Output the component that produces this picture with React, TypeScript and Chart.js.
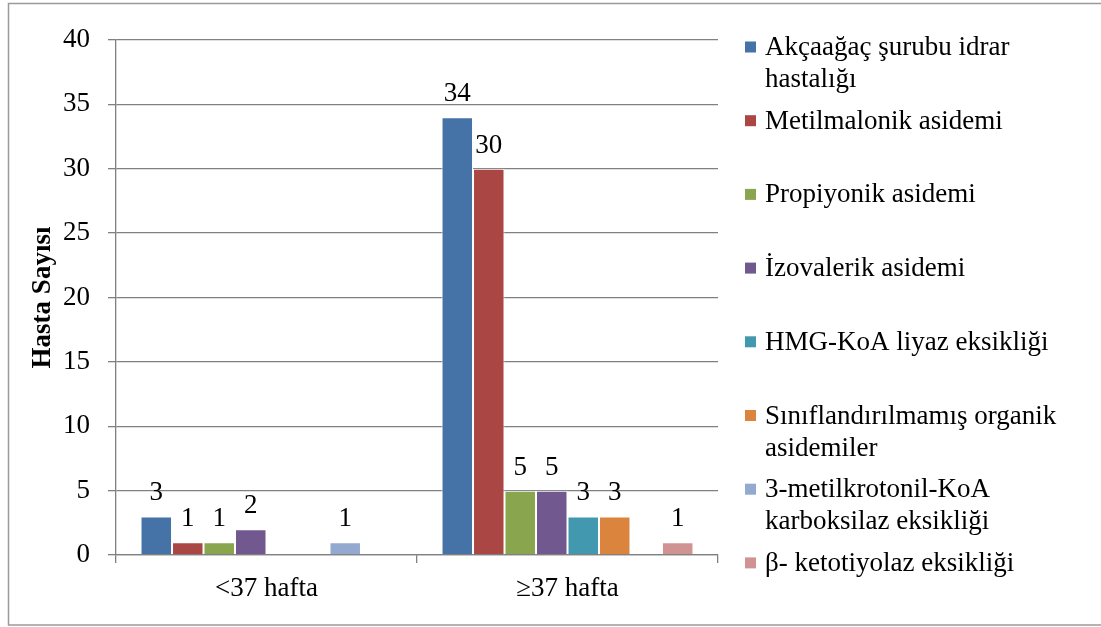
import React, { useEffect, useRef } from "react";
import { Chart, registerables } from "chart.js";

Chart.register(...registerables);

const categories = ["<37 hafta", "≥37 hafta"];
const seriesNames = [
  "Akçaağaç şurubu idrar hastalığı",
  "Metilmalonik asidemi",
  "Propiyonik asidemi",
  "İzovalerik asidemi",
  "HMG-KoA liyaz eksikliği",
  "Sınıflandırılmamış organik asidemiler",
  "3-metilkrotonil-KoA karboksilaz eksikliği",
  "β- ketotiyolaz eksikliği",
];
const legendLines = [
  ["Akçaağaç şurubu idrar", "hastalığı"],
  ["Metilmalonik asidemi"],
  ["Propiyonik asidemi"],
  ["İzovalerik asidemi"],
  ["HMG-KoA liyaz eksikliği"],
  ["Sınıflandırılmamış organik", "asidemiler"],
  ["3-metilkrotonil-KoA", "karboksilaz eksikliği"],
  ["β- ketotiyolaz eksikliği"],
];
const seriesValues = [
  [3, 34],
  [1, 30],
  [1, 5],
  [2, 5],
  [0, 3],
  [0, 3],
  [1, 0],
  [0, 1],
];
const seriesColors = [
  "#4572A7",
  "#AA4643",
  "#89A54E",
  "#71588F",
  "#4198AF",
  "#DB843D",
  "#93A9CF",
  "#D19392",
];
const yTitle = "Hasta Sayısı";
const yMin = 0;
const yMax = 40;
const yStep = 5;

const FONT = "'Liberation Serif', serif";
const GRID = "#808080";

export default function App() {
  const ref = useRef<HTMLCanvasElement | null>(null);
  useEffect(() => {
    document.body.style.margin = "0";
    const canvas = ref.current!;
    const framePlugin = {
      id: "frame",
      beforeDraw(chart: any) {
        const c = chart.ctx;
        c.save();
        c.fillStyle = "#ffffff";
        c.fillRect(0, 0, chart.width, chart.height);
        c.strokeStyle = "#9a9a9a";
        c.lineWidth = 1.5;
        c.strokeRect(8.5, 3.5, 1100, 621.5);
        c.restore();
      },
    };
    const labelsPlugin = {
      id: "vals",
      afterDatasetsDraw(chart: any) {
        const c = chart.ctx;
        c.save();
        c.font = `27px ${FONT}`;
        c.fillStyle = "#000";
        c.textAlign = "center";
        c.textBaseline = "alphabetic";
        chart.data.datasets.forEach((ds: any, i: number) => {
          const meta = chart.getDatasetMeta(i);
          meta.data.forEach((el: any, j: number) => {
            const v = ds.data[j];
            if (!v) return;
            c.fillText(String(v), el.x, el.y - 16);
          });
        });
        c.restore();
      },
    };
    const legendPlugin = {
      id: "legendCustom",
      afterDraw(chart: any) {
        const c = chart.ctx;
        c.save();
        c.font = `27px ${FONT}`;
        c.textBaseline = "middle";
        c.textAlign = "left";
        legendLines.forEach((lines, i) => {
          const y = 47 + i * 73.7;
          c.fillStyle = seriesColors[i];
          c.fillRect(745, y - 5.5, 11, 11);
          c.fillStyle = "#000";
          lines.forEach((ln, k) => c.fillText(ln, 765, y + 1 + k * 32));
        });
        // y title
        const area = chart.chartArea;
        c.translate(43, (area.top + area.bottom) / 2);
        c.rotate(-Math.PI / 2);
        c.font = `bold 27px ${FONT}`;
        c.textAlign = "center";
        c.fillText(yTitle, 0, 0);
        c.restore();
      },
    };
    const chart = new Chart(canvas, {
      type: "bar",
      data: {
        labels: categories,
        datasets: seriesNames.map((name, i) => ({
          label: name,
          data: seriesValues[i],
          backgroundColor: seriesColors[i],
          borderColor: "#ffffff",
          borderWidth: 1,
          categoryPercentage: 0.837,
          barPercentage: 1,
        })),
      },
      options: {
        animation: false,
        responsive: false,
        layout: { padding: { top: 40, right: 383, left: 0, bottom: 0 } },
        plugins: { legend: { display: false }, tooltip: { enabled: false } },
        scales: {
          x: {
            grid: { drawOnChartArea: false, offset: true, tickLength: 8, color: GRID, lineWidth: 1.3 },
            border: { color: GRID, width: 1.3 },
            ticks: { font: { family: FONT, size: 27 }, color: "#000", padding: 10 },
            afterFit(scale: any) {
              scale.height = 72;
            },
          },
          y: {
            min: yMin,
            max: yMax,
            ticks: { stepSize: yStep, font: { family: FONT, size: 27 }, color: "#000", padding: 18 },
            grid: { color: GRID, tickLength: 8, lineWidth: 1.3 },
            border: { color: GRID, width: 1.3 },
            afterFit(scale: any) {
              scale.width = 116;
            },
          },
        },
      },
      plugins: [framePlugin, labelsPlugin, legendPlugin],
    });
    return () => chart.destroy();
  }, []);
  return (
    <div style={{ position: "relative", width: 1101, height: 627 }}>
      <canvas ref={ref} width={1101} height={627} />
    </div>
  );
}
